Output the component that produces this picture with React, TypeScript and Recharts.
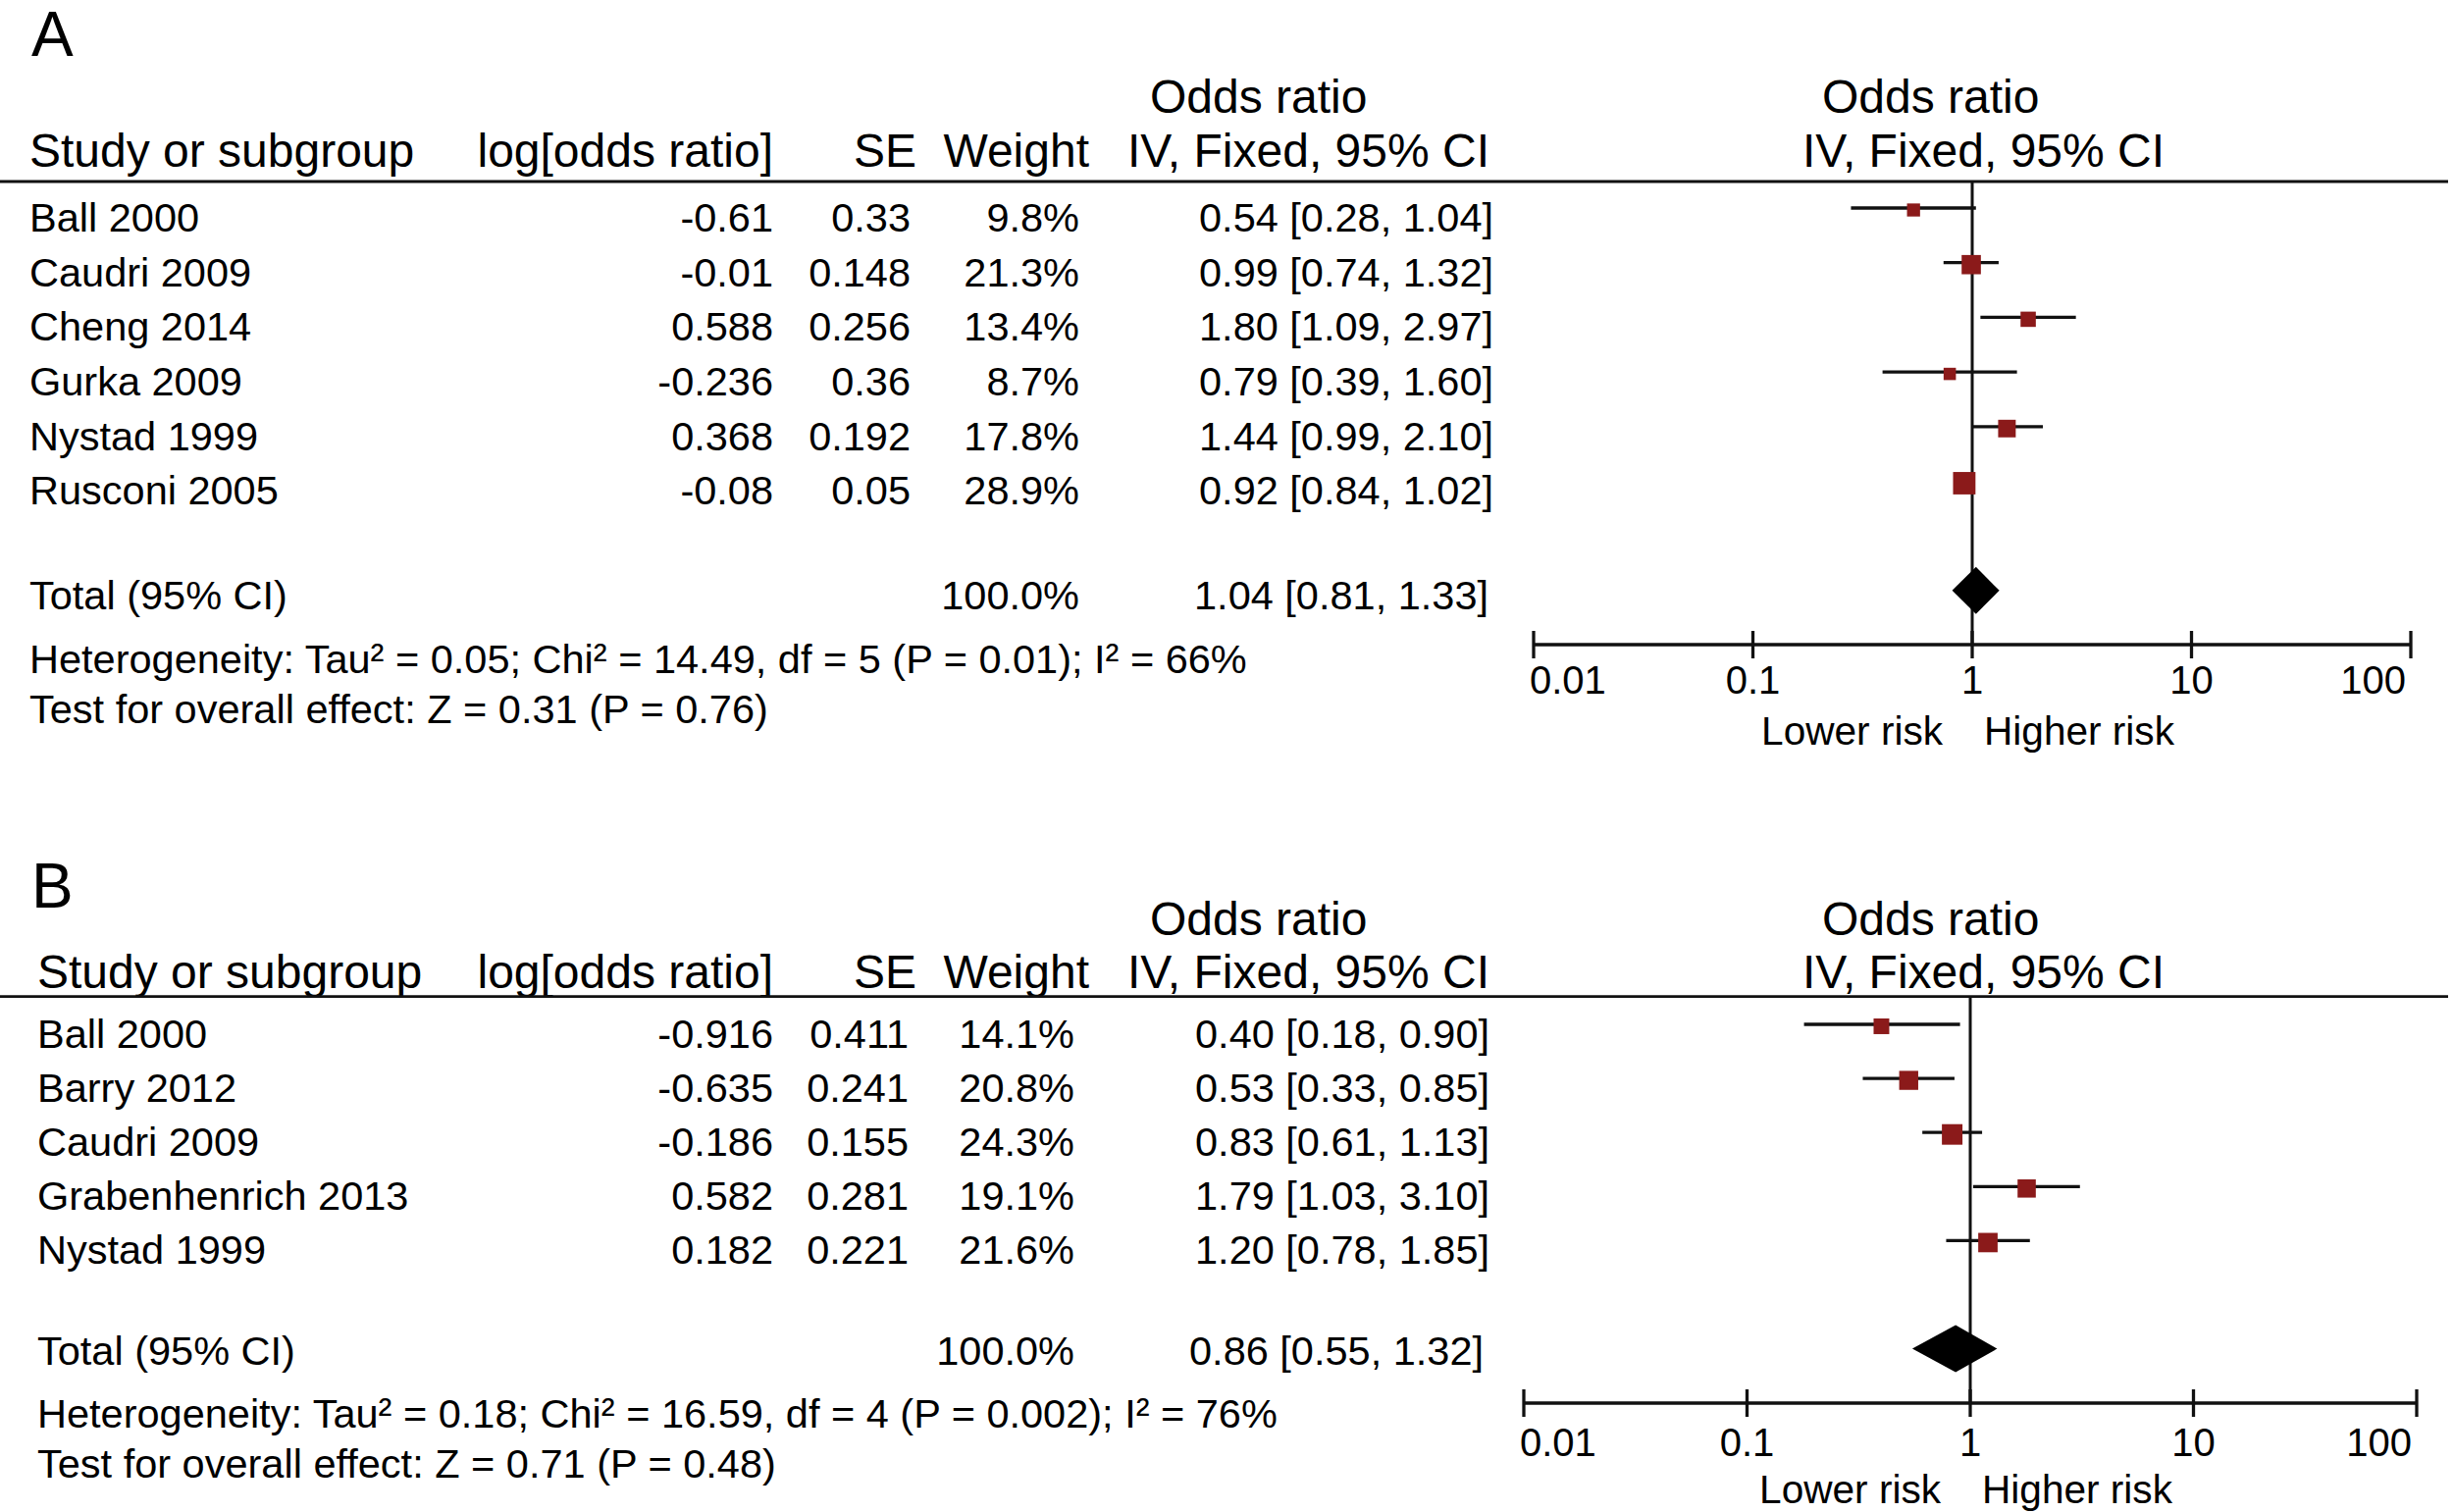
import React from "react";
import {
  ScatterChart,
  Scatter,
  XAxis,
  YAxis,
  ErrorBar,
  ReferenceLine,
  Customized,
} from "recharts";

const FONT = '"Liberation Sans", Arial, Helvetica, sans-serif';
const INK = "#111";
const SQUARE = "#8b1a1a";

// ---- Panel A data ----
const studiesA = ["Ball 2000", "Caudri 2009", "Cheng 2014", "Gurka 2009", "Nystad 1999", "Rusconi 2005"];
const logOrA = ["-0.61", "-0.01", "0.588", "-0.236", "0.368", "-0.08"];
const seA = ["0.33", "0.148", "0.256", "0.36", "0.192", "0.05"];
const weightA = [9.8, 21.3, 13.4, 8.7, 17.8, 28.9];
const orA = [0.54, 0.99, 1.8, 0.79, 1.44, 0.92];
const loA = [0.28, 0.74, 1.09, 0.39, 0.99, 0.84];
const hiA = [1.04, 1.32, 2.97, 1.6, 2.1, 1.02];
const totalA = [1.04, 0.81, 1.33]; // or, lo, hi
const hetA = "Heterogeneity: Tau\u00b2 = 0.05; Chi\u00b2 = 14.49, df = 5 (P = 0.01); I\u00b2 = 66%";
const testA = "Test for overall effect: Z = 0.31 (P = 0.76)";

// ---- Panel B data ----
const studiesB = ["Ball 2000", "Barry 2012", "Caudri 2009", "Grabenhenrich 2013", "Nystad 1999"];
const logOrB = ["-0.916", "-0.635", "-0.186", "0.582", "0.182"];
const seB = ["0.411", "0.241", "0.155", "0.281", "0.221"];
const weightB = [14.1, 20.8, 24.3, 19.1, 21.6];
const orB = [0.4, 0.53, 0.83, 1.79, 1.2];
const loB = [0.18, 0.33, 0.61, 1.03, 0.78];
const hiB = [0.9, 0.85, 1.13, 3.1, 1.85];
const totalB = [0.86, 0.55, 1.32];
const hetB = "Heterogeneity: Tau\u00b2 = 0.18; Chi\u00b2 = 16.59, df = 4 (P = 0.002); I\u00b2 = 76%";
const testB = "Test for overall effect: Z = 0.71 (P = 0.48)";

// shared labels
const xTicks = [0.01, 0.1, 1, 10, 100];
const headerTop = "Odds ratio";
const headerSub = "IV, Fixed, 95% CI";
const colHeaders = ["Study or subgroup", "log[odds ratio]", "SE", "Weight"];
const totalLabel = "Total (95% CI)";
const lowerLabel = "Lower risk";
const higherLabel = "Higher risk";

const fmtCi = (o: number, l: number, h: number) =>
  `${o.toFixed(2)} [${l.toFixed(2)}, ${h.toFixed(2)}]`;

function buildRows(studies, logOr, se, weight, or, lo, hi, total) {
  const rows = studies.map((s, i) => ({
    row: i,
    label: s,
    logOr: logOr[i],
    se: se[i],
    weight: weight[i].toFixed(1) + "%",
    w: weight[i],
    ci: fmtCi(or[i], lo[i], hi[i]),
    or: or[i],
    err: [or[i] - lo[i], hi[i] - or[i]],
    isTotal: false,
  }));
  // one blank row between the studies and the total
  const totalRow = studies.length + 1;
  const totalEntry = {
    row: totalRow,
    label: totalLabel,
    logOr: "",
    se: "",
    weight: "100.0%",
    w: 0,
    ci: fmtCi(total[0], total[1], total[2]),
    or: total[0],
    err: [0, 0],
    isTotal: true,
  };
  const diamond = [
    { or: total[1], row: totalRow },
    { or: total[0], row: totalRow },
    { or: total[2], row: totalRow },
  ];
  return { studyRows: rows, all: [...rows, totalEntry], diamond };
}

const cfgA = {
  height: 770,
  letter: "A",
  letterY: 57,
  head1Y: 115,
  head2Y: 170,
  lineY: 185,
  axisY: 657,
  plotLeft: 1563,
  plotRight: 2457,
  domain: [-0.485, 7.99],
  studyX: 30,
  logX: 788,
  seX: 928,
  wX: 1100,
  ciX: 1522,
  headSeX: 934,
  headWX: 1110,
  textDy: 24,
  totalDy: 19,
  totalCiDx: -5,
  hetDy: 84,
  testDy: 135,
  tickLabelDy: 50,
  het: hetA,
  test: testA,
};

const cfgB = {
  height: 771,
  letter: "B",
  letterY: 155,
  head1Y: 183,
  head2Y: 237,
  lineY: 245.6,
  axisY: 660,
  plotLeft: 1553,
  plotRight: 2463,
  domain: [-0.515, 7.005],
  studyX: 38,
  logX: 788,
  seX: 926,
  wX: 1095,
  ciX: 1518,
  headSeX: 934,
  headWX: 1110,
  textDy: 24,
  totalDy: 16,
  totalCiDx: -6,
  hetDy: 80,
  testDy: 131,
  tickLabelDy: 54,
  het: hetB,
  test: testB,
};

function TableTick(props: any) {
  const { y, payload, rows, cfg } = props;
  const r = rows.find((d) => d.row === payload.value);
  if (!r) return <g />;
  const base = y + (r.isTotal ? cfg.totalDy : cfg.textDy);
  const ciX = cfg.ciX + (r.isTotal ? cfg.totalCiDx : 0);
  return (
    <g fontFamily={FONT} fontSize={41.5} fill="#000">
      <text x={cfg.studyX} y={base}>{r.label}</text>
      <text x={cfg.logX} y={base} textAnchor="end">{r.logOr}</text>
      <text x={cfg.seX} y={base} textAnchor="end">{r.se}</text>
      <text x={cfg.wX} y={base} textAnchor="end">{r.weight}</text>
      <text x={ciX} y={base} textAnchor="end">{r.ci}</text>
      {r.isTotal && (
        <>
          <text x={cfg.studyX} y={y + cfg.hetDy}>{cfg.het}</text>
          <text x={cfg.studyX} y={y + cfg.testDy}>{cfg.test}</text>
        </>
      )}
    </g>
  );
}

function OrTick(props: any) {
  const { x, y, payload, index, cfg } = props;
  const last = xTicks.length - 1;
  const anchor = index === 0 ? "start" : index === last ? "end" : "middle";
  const lx = index === 0 ? x - 4 : index === last ? x - 5 : x;
  return (
    <g fontFamily={FONT} fill="#000">
      <line x1={x} x2={x} y1={y - 14} y2={y + 14} stroke={INK} strokeWidth={3.3} />
      <text x={lx} y={y + cfg.tickLabelDy} fontSize={40} textAnchor={anchor}>
        {String(payload.value)}
      </text>
      {payload.value === 1 && (
        <>
          <text x={x - 30} y={y + 102} fontSize={40.6} textAnchor="end">{lowerLabel}</text>
          <text x={x + 12} y={y + 102} fontSize={40.6}>{higherLabel}</text>
        </>
      )}
    </g>
  );
}

function Square(props: any) {
  const { cx, cy, payload } = props;
  const s = 4.25 * Math.sqrt(payload.w);
  return <rect x={cx - s / 2} y={cy - s / 2 + 2} width={s} height={s} fill={SQUARE} />;
}

function DiamondLine(props: any) {
  const pts = props.points || [];
  if (pts.length < 3) return <g />;
  const h = 24;
  const [l, m, r] = pts;
  const d = `M${l.x},${m.y} L${m.x},${m.y - h} L${r.x},${m.y} L${m.x},${m.y + h} Z`;
  return <path d={d} fill="#000" stroke="none" />;
}

function Header(props: any) {
  const { cfg } = props;
  return (
    <g fontFamily={FONT} fill="#000">
      <text x={32} y={cfg.letterY} fontSize={64}>{cfg.letter}</text>
      <g fontSize={48}>
        <text x={1172} y={cfg.head1Y}>{headerTop}</text>
        <text x={1857} y={cfg.head1Y}>{headerTop}</text>
        <text x={cfg.studyX} y={cfg.head2Y}>{colHeaders[0]}</text>
        <text x={cfg.logX} y={cfg.head2Y} textAnchor="end">{colHeaders[1]}</text>
        <text x={cfg.headSeX} y={cfg.head2Y} textAnchor="end">{colHeaders[2]}</text>
        <text x={cfg.headWX} y={cfg.head2Y} textAnchor="end">{colHeaders[3]}</text>
        <text x={1518} y={cfg.head2Y} textAnchor="end">{headerSub}</text>
        <text x={1837} y={cfg.head2Y}>{headerSub}</text>
      </g>
      <line x1={0} x2={2495} y1={cfg.lineY} y2={cfg.lineY} stroke={INK} strokeWidth={2.8} />
    </g>
  );
}

function ForestPanel({ cfg, data }: any) {
  const rowTicks = data.all.map((r) => r.row);
  return (
    <ScatterChart
      width={2500}
      height={cfg.height}
      margin={{ top: cfg.lineY, right: 2500 - cfg.plotRight, bottom: 0, left: 0 }}
    >
      <XAxis
        type="number"
        dataKey="or"
        scale="log"
        domain={[0.01, 100]}
        ticks={xTicks}
        interval={0}
        allowDataOverflow
        height={cfg.height - cfg.axisY}
        axisLine={{ stroke: INK, strokeWidth: 3.3 }}
        tickLine={false}
        tickSize={0}
        tickMargin={0}
        tick={<OrTick cfg={cfg} />}
      />
      <YAxis
        type="number"
        dataKey="row"
        reversed
        domain={cfg.domain}
        allowDataOverflow
        ticks={rowTicks}
        interval={0}
        width={cfg.plotLeft}
        axisLine={false}
        tickLine={false}
        tick={<TableTick rows={data.all} cfg={cfg} />}
      />
      <ReferenceLine x={1} stroke={INK} strokeWidth={3} />
      <Scatter data={data.studyRows} shape={<Square />} isAnimationActive={false}>
        <ErrorBar dataKey="err" direction="x" width={0} stroke={INK} strokeWidth={3.3} />
      </Scatter>
      <Scatter
        data={data.diamond}
        shape={() => <g />}
        line={<DiamondLine />}
        isAnimationActive={false}
      />
      <Customized component={<Header cfg={cfg} />} />
    </ScatterChart>
  );
}

const dataA = buildRows(studiesA, logOrA, seA, weightA, orA, loA, hiA, totalA);
const dataB = buildRows(studiesB, logOrB, seB, weightB, orB, loB, hiB, totalB);

export default function App() {
  return (
    <div style={{ width: 2500, height: 1541, background: "#fff" }}>
      <style>{"body{margin:0;background:#fff}"}</style>
      <ForestPanel cfg={cfgA} data={dataA} />
      <ForestPanel cfg={cfgB} data={dataB} />
    </div>
  );
}
